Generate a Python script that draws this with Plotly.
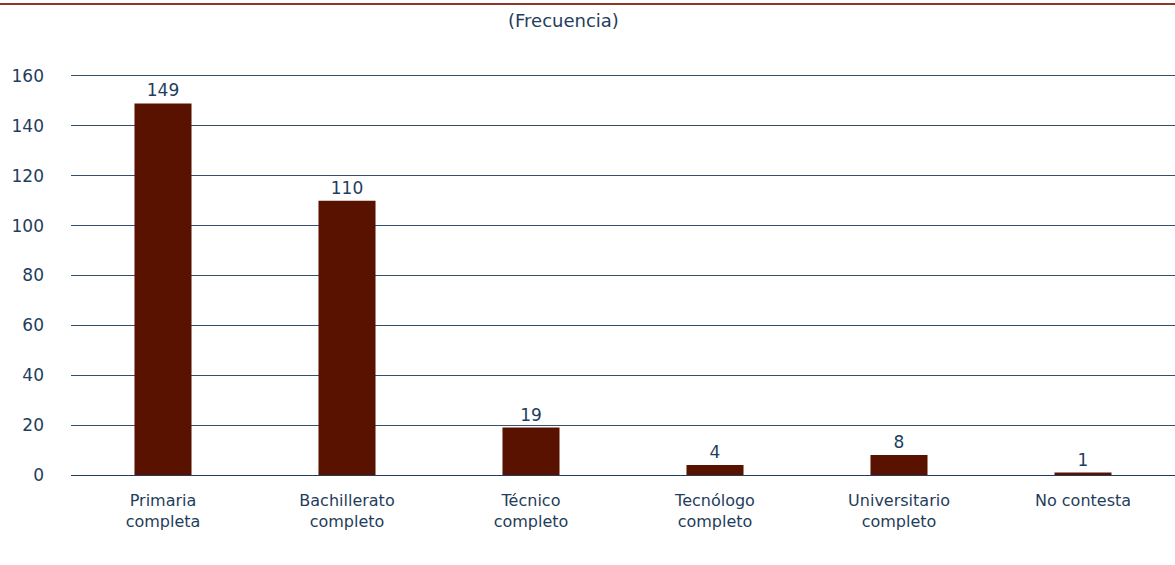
import plotly.graph_objects as go

categories = ["Primaria<br>completa", "Bachillerato<br>completo", "Técnico<br>completo",
              "Tecnólogo<br>completo", "Universitario<br>completo", "No contesta"]
values = [149, 110, 19, 4, 8, 1]
y_ticks = [0, 20, 40, 60, 80, 100, 120, 140, 160]

txt = "#1f3d5c"
ph = 404
fig = go.Figure(go.Bar(
    x=categories, y=values, text=[str(v) for v in values], textposition="outside",
    textfont=dict(color=txt, size=17), marker=dict(color="#5a1200", line=dict(width=0)),
    width=0.31, cliponaxis=False,
))
fig.update_layout(
    width=1175, height=565, plot_bgcolor="white", paper_bgcolor="white",
    margin=dict(l=71, r=0, t=71, b=90, autoexpand=False),
    font=dict(family="DejaVu Sans", size=16, color=txt),
    showlegend=False, bargap=0.69,
)
fig.update_xaxes(showgrid=False, showline=False, ticks="", ticklabelstandoff=14,
                 tickfont=dict(size=16, color=txt), automargin=False)
fig.update_yaxes(range=[0, 162], tickvals=y_ticks, showgrid=True, gridcolor="#34506e",
                 gridwidth=1, zeroline=True, zerolinecolor="#1f3d5c", zerolinewidth=1,
                 showline=False, ticks="", ticklabelstandoff=26, automargin=False,
                 tickfont=dict(size=17, color=txt))
fig.add_shape(type="line", xref="paper", yref="paper", x0=-71/1104, x1=1,
              y0=(475-4)/ph, y1=(475-4)/ph, line=dict(color="#8b3a2a", width=2))
fig.add_annotation(text="(Frecuencia)", xref="paper", yref="paper",
                   x=(563-71)/1104, y=(475-20)/ph, showarrow=False,
                   font=dict(size=18, color=txt), xanchor="center", yanchor="middle")
fig.write_html("out.html", config={"displayModeBar": False},
               post_script="document.body.style.margin='0';")
